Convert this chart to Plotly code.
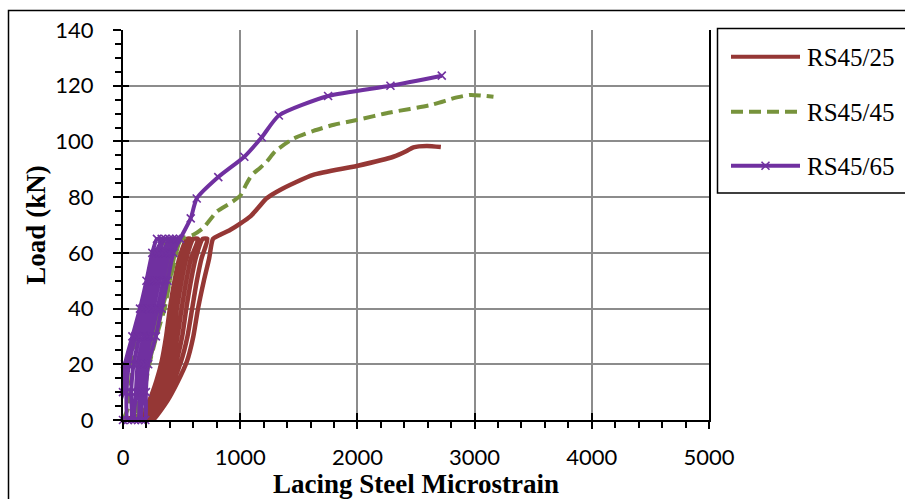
import plotly.graph_objects as go

# ---------------- data ----------------
series_names = ["RS45/25", "RS45/45", "RS45/65"]

rs25_strain = [0, 90,
               162, 225, 285, 330, 368, 400, 440, 480, 546,
               575, 510, 468, 430, 400, 360, 310, 245, 172,
               185, 265, 335, 390, 430, 460, 500, 540, 600,
               640, 580, 540, 500, 465, 420, 365, 290, 200,
               215, 315, 395, 455, 505, 540, 580, 620, 680,
               720, 670, 630, 590, 550, 495, 430, 345, 235,
               256, 380, 470, 545, 600, 640, 690, 735, 768,
               830, 913, 1000, 1084, 1150, 1226, 1340, 1622, 1994, 2307, 2420, 2478, 2592, 2712]
rs25_load = [0, 1,
             2, 7, 14, 21, 30, 40, 50, 58, 65,
             65, 58, 50, 40, 30, 21, 14, 7, 0,
             0, 7, 14, 21, 30, 40, 50, 58, 65,
             65, 58, 50, 40, 30, 21, 14, 7, 0,
             0, 7, 14, 21, 30, 40, 50, 58, 65,
             65, 58, 50, 40, 30, 21, 14, 7, 0,
             0, 7, 14, 21, 30, 40, 50, 58, 65,
             66.5, 68.2, 70.5, 73, 76, 79.6, 82.6, 88, 91.2, 94.5, 96.6, 97.9, 98.4, 98]

rs45_strain = [0, 50, 65, 80, 100, 125, 170, 230, 300, 380, 420,
               440, 420, 370, 310, 250, 190, 140, 100,
               120, 155, 200, 255, 310, 360, 415, 460,
               480, 455, 400, 335, 280, 220, 165, 128,
               140, 180, 225, 285, 355, 400, 445, 500,
               600, 686, 800, 913, 1000, 1050, 1100, 1169, 1226, 1300, 1454, 1625,
               1800, 1994, 2279, 2620, 2848, 2962, 3050, 3161]
rs45_load = [0, 5, 12, 20, 28, 33, 40, 50, 58, 64, 65,
             65, 60, 50, 40, 30, 20, 10, 0,
             0, 10, 20, 30, 40, 50, 60, 65,
             65, 60, 50, 40, 30, 20, 10, 0,
             0, 10, 20, 30, 40, 50, 60, 65,
             66.5, 69, 74.8, 77.8, 80.5, 84.5, 88, 90.5, 92.7, 96.5, 101, 103.8,
             106, 107.7, 110.4, 113, 115.8, 116.7, 116.5, 116]

rs65_strain = [0, -30, -20, 0, 17, 80, 145, 200, 250, 290,
               330, 280, 225, 165, 105, 50, 30, 40,
               70, 70, 90, 140, 195, 250, 305, 360,
               395, 335, 280, 225, 175, 125, 110, 100,
               130, 140, 155, 205, 260, 310, 365, 425,
               455, 395, 345, 295, 240, 185, 170, 160,
               190, 195, 215, 280, 330, 380, 430, 487,
               578, 629, 813, 1035, 1184, 1330, 1750, 2282, 2720]
rs65_load = [0, 3, 7, 10, 20, 30, 40, 50, 60, 65,
             65, 60, 50, 40, 30, 20, 10, 0,
             0, 10, 20, 30, 40, 50, 60, 65,
             65, 60, 50, 40, 30, 20, 10, 0,
             0, 10, 20, 30, 40, 50, 60, 65,
             65, 60, 50, 40, 30, 20, 10, 0,
             0, 10, 20, 30, 40, 50, 60, 65,
             72.4, 79.5, 87.2, 94.5, 101.5, 109.3, 116.3, 120, 123.6]

x_ticks = [0, 1000, 2000, 3000, 4000, 5000]
y_ticks = [0, 20, 40, 60, 80, 100, 120, 140]

# ---------------- styles ----------------
RED = "#953735"
GREEN = "#77933C"
PURPLE = "#7030A0"
GRID = "#8c8c8c"
TICK_FONT = dict(family="Lato", size=22, color="black")
TITLE_FONT = dict(family="Liberation Serif", size=27, color="black")

fig = go.Figure()
fig.add_trace(go.Scatter(x=rs25_strain, y=rs25_load, mode="lines", name=series_names[0],
                         line=dict(color=RED, width=4.5, shape="spline", smoothing=0.6),
                         showlegend=False))
fig.add_trace(go.Scatter(x=rs45_strain, y=rs45_load, mode="lines", name=series_names[1],
                         line=dict(color=GREEN, width=4, dash="12px,6px", shape="spline", smoothing=0.6),
                         showlegend=False))
fig.add_trace(go.Scatter(x=rs65_strain, y=rs65_load, mode="lines+markers", name=series_names[2],
                         line=dict(color=PURPLE, width=4, shape="spline", smoothing=0.6),
                         marker=dict(symbol="x-thin", size=8, color=PURPLE,
                                     line=dict(color=PURPLE, width=1.6)),
                         cliponaxis=False, showlegend=False))
# helper trace for the overlaid tick axes (inside half of the crossing major ticks)
fig.add_trace(go.Scatter(x=[None], y=[None], xaxis="x2", yaxis="y2", showlegend=False,
                         hoverinfo="skip"))

L, R, T, B = 123, 196, 30, 79
W, H = 905, 499
PW, PH = W - L - R, H - T - B


def px(xp):
    return (xp - L) / PW


def py(yp):
    return (H - B - yp) / PH


fig.update_layout(
    width=W, height=H,
    margin=dict(l=L, r=R, t=T, b=B, pad=0),
    paper_bgcolor="white", plot_bgcolor="white",
    showlegend=False,
    xaxis=dict(range=[0, 5000], tickvals=x_ticks, ticks="outside", ticklen=7, tickwidth=1.5,
               tickcolor="black", showline=True, linecolor="black", linewidth=2,
               showgrid=True, gridcolor=GRID, gridwidth=1.5, zeroline=False,
               minor=dict(dtick=200, ticks="outside", ticklen=6, tickwidth=1.5,
                          tickcolor="black", showgrid=False),
               tickfont=TICK_FONT, ticklabelstandoff=10, automargin=False,
               title=dict(text="<b>Lacing Steel Microstrain</b>", font=TITLE_FONT, standoff=6)),
    yaxis=dict(range=[0, 140], tickvals=y_ticks, ticks="outside", ticklen=8, tickwidth=1.5,
               tickcolor="black", showline=True, linecolor="black", linewidth=2, mirror=True,
               showgrid=True, gridcolor=GRID, gridwidth=1.5, zeroline=False,
               minor=dict(dtick=5, ticks="outside", ticklen=6, tickwidth=1.5,
                          tickcolor="black", showgrid=False),
               tickfont=TICK_FONT, ticklabelstandoff=15, automargin=False,
               title=dict(text="<b>Load (kN)</b>", font=TITLE_FONT, standoff=2)),
    xaxis2=dict(range=[0, 5000], overlaying="x", anchor="y2", side="bottom", tickvals=x_ticks,
                ticks="inside", ticklen=7, tickwidth=1.5, tickcolor="black",
                showticklabels=False, showgrid=False, showline=False, zeroline=False),
    yaxis2=dict(range=[0, 140], overlaying="y", anchor="x2", side="left", tickvals=y_ticks,
                ticks="inside", ticklen=6, tickwidth=1.5, tickcolor="black",
                showticklabels=False, showgrid=False, showline=False, zeroline=False),
)

shapes = []
# chart-area frame
shapes.append(dict(type="rect", xref="paper", yref="paper",
                   x0=px(8.5), x1=px(960), y0=py(560), y1=py(10.5),
                   line=dict(color="black", width=1.5), fillcolor="rgba(0,0,0,0)"))
# legend box
shapes.append(dict(type="rect", xref="paper", yref="paper",
                   x0=px(717.5), x1=px(960), y0=py(193), y1=py(28.5),
                   line=dict(color="black", width=1.5), fillcolor="rgba(0,0,0,0)"))
leg_y = [56.7, 111.7, 165.7]
leg_col = [RED, GREEN, PURPLE]
leg_dash = ["solid", "12px,6px", "solid"]
annotations = []
for name, yy, col, dsh in zip(series_names, leg_y, leg_col, leg_dash):
    shapes.append(dict(type="line", xref="paper", yref="paper",
                       x0=px(731), x1=px(800), y0=py(yy), y1=py(yy),
                       line=dict(color=col, width=4, dash=dsh)))
    annotations.append(dict(text=name, xref="paper", yref="paper", x=px(805), y=py(yy + 1),
                            xanchor="left", yanchor="middle", showarrow=False,
                            font=dict(family="Liberation Serif", size=25, color="black")))
# x marker on purple legend sample
cx, cy = 765.5, leg_y[2]
shapes.append(dict(type="path", xref="paper", yref="paper",
                   path=f"M{px(cx-4)},{py(cy-4)} L{px(cx+4)},{py(cy+4)} M{px(cx-4)},{py(cy+4)} L{px(cx+4)},{py(cy-4)}",
                   line=dict(color=PURPLE, width=1.6)))

fig.update_layout(shapes=shapes, annotations=annotations)

fig.write_html("out.html")
